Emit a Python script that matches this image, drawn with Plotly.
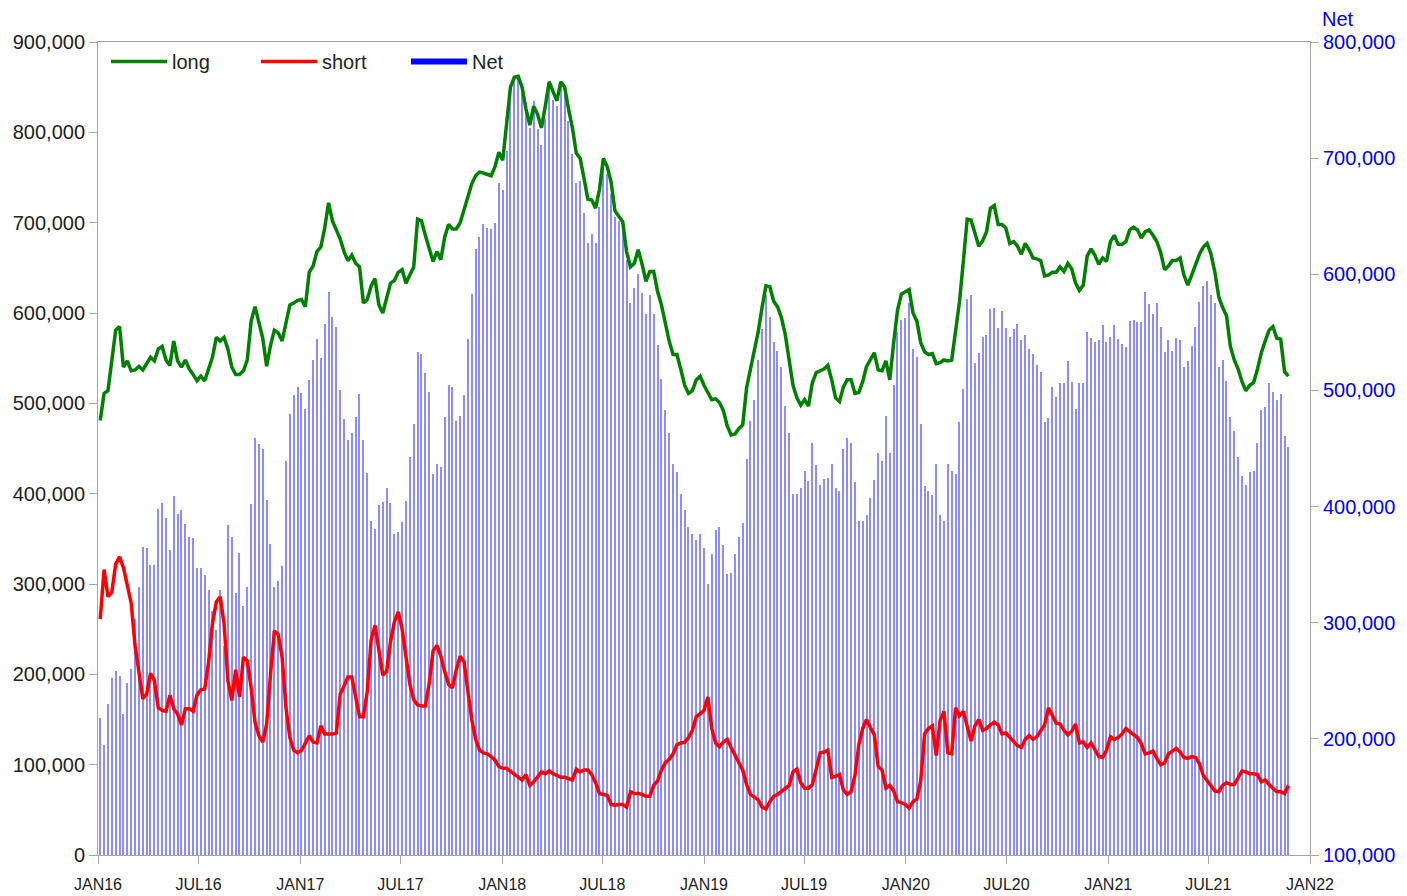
import pandas as pd
import plotly.graph_objects as go

# Weekly values (thousands of contracts), first week 2016-01-05
long_k = [
    481, 511, 514, 547, 581, 585, 540, 547, 536, 537, 541, 537, 544, 551, 547, 560, 563, 548, 542, 569,
    547, 540, 548, 538, 532, 525, 530, 525, 538, 551, 573, 569, 573, 560, 540, 532, 532, 536, 548, 591,
    607, 588, 572, 541, 564,
    581, 578, 569, 589, 609, 611, 614, 615, 607, 645, 652, 668, 673, 694, 722, 702, 692, 682, 668, 658,
    664, 655, 651, 611, 615, 630, 638, 609, 600, 615, 633, 636, 645, 648, 633, 642, 651, 704, 702, 686,
    670, 657, 668, 659,
    684, 698, 693, 693, 700, 715, 729, 743, 752, 756, 755, 753, 752, 762, 778, 769, 808, 850, 861, 862,
    850, 826, 808, 829, 820, 805, 829, 856, 845, 835, 856, 850, 826, 805, 777, 771, 749, 726, 725, 716,
    737, 771, 762,
    745, 713, 707, 701, 668, 651, 655, 670, 654, 635, 646, 646, 624, 609, 589, 569, 554, 554, 538, 520,
    511, 514, 526, 530, 520, 511, 504, 505, 501, 492, 475, 465, 466, 472, 476, 517, 538, 556, 579, 606,
    630, 629, 613, 607,
    595, 576, 548, 520, 506, 498, 504, 497, 523, 534, 536, 538, 542, 526, 506, 502, 518, 526, 526, 511,
    512, 524, 541, 548, 556, 537, 536, 547, 526, 567, 603, 621, 623, 626, 600, 591, 567, 557, 554, 555,
    544, 545, 548, 547,
    548, 583, 612, 657, 704, 703, 688, 674, 680, 690, 716, 719, 698, 698, 694, 677, 679, 674, 665, 677,
    670, 661, 660, 658, 641, 642, 645, 645, 651, 646, 655, 649, 633, 625, 631, 663, 671, 664, 654, 661,
    657, 679, 686, 676,
    676, 679, 692, 695, 692, 683, 690, 692, 686, 679, 667, 648, 652, 658, 658, 661, 642, 631, 642, 654,
    665, 673, 677, 665, 645, 618, 606, 597, 563, 548, 538, 524, 514, 520, 523, 538, 556, 569, 581, 585,
    572, 571, 535, 530,
]

short_k = [
    261, 316, 286, 291, 322, 330, 318, 298, 279, 232, 202, 173, 178, 201, 193, 163, 160, 159, 177, 162,
    156, 144, 162, 162, 159, 177, 183, 184, 213, 256, 280, 286, 256, 193, 171, 205, 175, 219, 215, 185,
    147, 132, 125, 145, 200,
    248, 244, 219, 163, 130, 116, 113, 116, 125, 132, 125, 124, 143, 134, 134, 134, 135, 178, 187, 197,
    197, 173, 153, 153, 181, 238, 254, 227, 199, 203, 236, 258, 269, 250, 219, 189, 172, 166, 165, 165,
    190, 226, 232, 220,
    203, 189, 185, 205, 220, 214, 181, 150, 128, 116, 113, 112, 109, 105, 98, 96, 96, 93, 90, 87,
    83, 89, 77, 81, 86, 92, 90, 93, 90, 88, 86, 86, 84, 83, 95, 92, 94, 94, 89, 80,
    68, 67, 66,
    56, 55, 56, 56, 53, 70, 68, 68, 67, 65, 65, 77, 82, 94, 102, 106, 112, 122, 124, 125,
    130, 138, 153, 156, 160, 175, 140, 124, 120, 125, 128, 119, 110, 102, 94, 78, 67, 64, 61, 53,
    51, 59, 65, 67,
    70, 73, 77, 92, 95, 80, 74, 74, 78, 95, 113, 114, 116, 86, 87, 89, 72, 67, 70, 88,
    122, 140, 150, 141, 133, 98, 94, 74, 77, 71, 59, 58, 56, 52, 59, 62, 82, 134, 140, 143,
    110, 149, 159, 113,
    112, 163, 154, 159, 143, 126, 143, 150, 138, 140, 144, 147, 144, 134, 135, 130, 126, 121, 119, 128,
    132, 128, 131, 138, 144, 163, 154, 146, 145, 138, 133, 137, 145, 124, 125, 119, 124, 116, 109, 108,
    116, 131, 128, 130,
    134, 140, 137, 133, 130, 123, 112, 113, 115, 107, 100, 102, 112, 115, 118, 114, 108, 107, 109, 108,
    101, 88, 82, 76, 71, 70, 77, 80, 78, 78, 86, 93, 92, 90, 90, 89, 81, 83, 78, 74,
    70, 70, 68, 77,
]

net_k = [
    218, 195, 230, 252, 258, 254, 221, 248, 260, 303, 331, 365, 364, 350, 350, 398, 403, 390, 363, 409,
    394, 397, 385, 374, 373, 347, 347, 341, 328, 310, 294, 328, 280, 384, 374, 326, 360, 314, 331, 402,
    459, 454, 450, 406,
    368, 331, 336, 349, 439, 480, 496, 503, 498, 484, 509, 526, 544, 528, 557, 585, 563, 555, 500, 475,
    457, 463, 477, 497, 457, 429, 388, 381, 401, 404, 416, 403, 376, 378, 387, 405, 443, 471, 533, 531,
    515, 499, 428, 437, 434,
    477, 505, 503, 474, 478, 496, 544, 583, 622, 632, 643, 640, 639, 644, 679, 673, 706, 748, 769, 770,
    756, 739, 726, 749, 725, 711, 734, 762, 750, 745, 766, 755, 732, 704, 679, 680, 653, 627, 635, 627,
    658, 695, 686,
    669, 649, 646, 640, 612, 575, 588, 600, 584, 566, 582, 566, 539, 510, 483, 463, 437, 430, 411, 397,
    382, 376, 371, 376, 364, 333, 359, 380, 382, 367, 342, 343, 359, 374, 386, 441, 474, 492, 526, 553,
    582, 563, 542, 534,
    520, 487, 463, 411, 411, 416, 431, 422, 455, 436, 419, 424, 425, 437, 416, 413, 450, 459, 455, 421,
    388, 388, 393, 407, 423, 446, 439, 478, 446, 505, 550, 561, 562, 575, 536, 529, 471, 418, 413, 410,
    437, 393, 388, 437,
    431, 428, 473, 501, 579, 582, 524, 532, 546, 548, 570, 571, 554, 568, 554, 546, 553, 557, 543, 548,
    536, 531, 522, 516, 473, 476, 503, 494, 506, 506, 525, 507, 484, 506, 506, 550, 545, 542, 543, 556,
    542, 546, 556, 544,
    540, 537, 560, 561, 559, 559, 585, 574, 566, 575, 555, 533, 543, 534, 545, 543, 520, 525, 538, 555,
    576, 590, 594, 582, 575, 520, 526, 508, 477, 465, 443, 426, 419, 430, 431, 455, 483, 486, 506, 499,
    492, 497, 461, 451,
]

dates = pd.date_range("2016-01-05", periods=len(long_k), freq="7D")

long_v = [v * 1000 for v in long_k]
short_v = [v * 1000 for v in short_k]
net_v = [v * 1000 for v in net_k]

tick_dates = ["2016-01-01", "2016-07-01", "2017-01-01", "2017-07-01", "2018-01-01", "2018-07-01",
              "2019-01-01", "2019-07-01", "2020-01-01", "2020-07-01", "2021-01-01", "2021-07-01",
              "2022-01-01"]
tick_text = ["JAN16", "JUL16", "JAN17", "JUL17", "JAN18", "JUL18", "JAN19", "JUL19",
             "JAN20", "JUL20", "JAN21", "JUL21", "JAN22"]

left_ticks = list(range(0, 900001, 100000))
right_ticks = list(range(100000, 800001, 100000))

FONT = "Liberation Sans, Arial, sans-serif"
GRAY = "#a6a6a6"

fig = go.Figure()

# Net bars on the right-hand axis (drawn first, behind lines)
fig.add_trace(go.Bar(
    x=dates, y=net_v, name="Net", yaxis="y", showlegend=False,
    width=2 * 86400000, marker=dict(color="#8c8cff", line=dict(width=0)),
))

fig.add_trace(go.Scatter(
    x=dates, y=long_v, name="long", yaxis="y2", mode="lines",
    line=dict(color="#008000", width=3.5),
))
fig.add_trace(go.Scatter(
    x=dates, y=short_v, name="short", yaxis="y2", mode="lines",
    line=dict(color="#ff0000", width=3.5),
))
# legend entry for Net shown as a thick blue line
fig.add_trace(go.Scatter(
    x=[None], y=[None], name="Net", yaxis="y2", mode="lines",
    line=dict(color="#0000ff", width=6),
))

fig.update_layout(
    width=1407, height=896,
    margin=dict(l=98, r=97, t=42, b=41, autoexpand=False),
    paper_bgcolor="white", plot_bgcolor="white",
    font=dict(family=FONT, size=20, color="#222222"),
    bargap=0,
    showlegend=True,
    legend=dict(
        orientation="h", x=0.0066, y=1.0, xanchor="left", yanchor="top",
        bgcolor="rgba(255,255,255,0)", borderwidth=0, font=dict(size=20, color="#222222"),
        itemwidth=56, entrywidth=79, entrywidthmode="pixels",
        traceorder="normal",
    ),
    xaxis=dict(
        type="date", range=["2016-01-01", "2022-01-01"], automargin=False,
        tickvals=tick_dates, ticktext=tick_text,
        ticks="outside", ticklen=8, tickcolor=GRAY, tickwidth=1,
        showline=True, linecolor=GRAY, linewidth=1, mirror=True,
        showgrid=False, zeroline=False,
        tickfont=dict(size=16, color="#222222"),
        ticklabelstandoff=7,
    ),
    yaxis=dict(
        side="right", range=[100000, 800000], automargin=False,
        tickvals=right_ticks, tickformat=",d",
        ticks="outside", ticklen=8, tickcolor=GRAY,
        showline=True, linecolor=GRAY, linewidth=1,
        showgrid=False, zeroline=False,
        tickfont=dict(size=20, color="#0000ff"),
    ),
    yaxis2=dict(
        side="left", overlaying="y", range=[0, 900000], automargin=False,
        tickvals=left_ticks, tickformat=",d",
        ticks="outside", ticklen=8, tickcolor=GRAY,
        showline=True, linecolor=GRAY, linewidth=1,
        showgrid=False, zeroline=False,
        tickfont=dict(size=20, color="#222222"),
    ),
    annotations=[dict(
        text="Net", xref="paper", yref="paper", x=1, y=1,
        xanchor="left", yanchor="bottom", xshift=10, yshift=10,
        showarrow=False, font=dict(size=20, color="#0000ff"),
    )],
)

fig.write_html(
    "out.html",
    config={"displayModeBar": False},
    post_script="document.body.style.margin='0';document.body.style.overflow='hidden';",
)
